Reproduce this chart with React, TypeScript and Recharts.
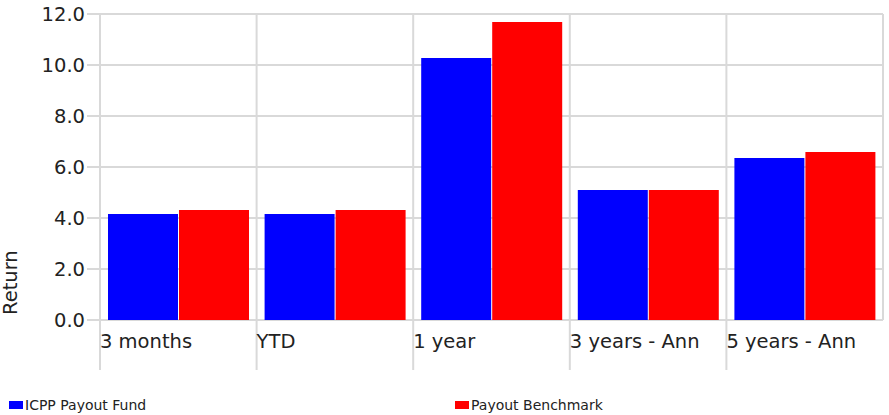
import { Bar, BarChart, CartesianGrid, XAxis, YAxis, Legend } from "recharts";

const categories = ["3 months", "YTD", "1 year", "3 years - Ann", "5 years - Ann"];
const fund = [4.16, 4.16, 10.27, 5.1, 6.35];
const benchmark = [4.31, 4.31, 11.69, 5.1, 6.59];
const yTicks = [0, 2, 4, 6, 8, 10, 12];

const data = categories.map((c, i) => ({ cat: c, fund: fund[i], bench: benchmark[i] }));

const GRID = "#d9d9d9";
const FONT = "DejaVu Sans, Verdana, sans-serif";

const XTick = (props: any) => {
  const { x, y, payload } = props;
  const bw = 783 / categories.length;
  const left = x - bw / 2;
  return (
    <g>
      <line x1={left} y1={y - 8} x2={left} y2={y + 42} stroke={GRID} strokeWidth={2} />
      <text x={left} y={y + 20} fill="#222" fontSize={19.5} fontFamily={FONT}>
        {payload.value}
      </text>
    </g>
  );
};

const LegendContent = () => (
  <div style={{ position: "relative", height: 20, fontFamily: FONT, fontSize: 14, color: "#222" }}>
    <div style={{ position: "absolute", left: 9, top: 2, display: "flex", alignItems: "center" }}>
      <span style={{ width: 14, height: 8, background: "#0000ff", display: "inline-block", marginRight: 2 }} />
      ICPP Payout Fund
    </div>
    <div style={{ position: "absolute", left: 455, top: 2, display: "flex", alignItems: "center" }}>
      <span style={{ width: 14, height: 8, background: "#ff0000", display: "inline-block", marginRight: 2 }} />
      Payout Benchmark
    </div>
  </div>
);

export default function App() {
  return (
    <div style={{ position: "absolute", left: 0, top: 0 }}>
      <BarChart
        width={889}
        height={415}
        data={data}
        margin={{ left: 0, right: 6, top: 14, bottom: 0 }}
        barCategoryGap={8}
        barGap={1}
      >
        <CartesianGrid
          stroke={GRID}
          strokeWidth={2}
          verticalCoordinatesGenerator={({ offset }: any) =>
            [0, 1, 2, 3, 4, 5].map((i) => offset.left + (i * offset.width) / 5)
          }
        />
        <XAxis dataKey="cat" axisLine={false} tickLine={false} tick={<XTick />} height={75} interval={0} />
        <YAxis
          domain={[0, 12]}
          ticks={yTicks}
          width={100}
          axisLine={false}
          tickLine={{ stroke: GRID, strokeWidth: 2 }}
          tickSize={13}
          tickFormatter={(v: number) => v.toFixed(1)}
          tick={{ fill: "#222", fontSize: 19.5, fontFamily: FONT }}
          label={{ value: "Return", angle: -90, position: "insideLeft", offset: 10, dy: 148, style: { fill: "#222", fontSize: 19.5, fontFamily: FONT } }}
        />
        <Legend verticalAlign="bottom" content={<LegendContent />} />
        <Bar dataKey="fund" name="ICPP Payout Fund" fill="#0000ff" isAnimationActive={false} />
        <Bar dataKey="bench" name="Payout Benchmark" fill="#ff0000" isAnimationActive={false} />
      </BarChart>
    </div>
  );
}
